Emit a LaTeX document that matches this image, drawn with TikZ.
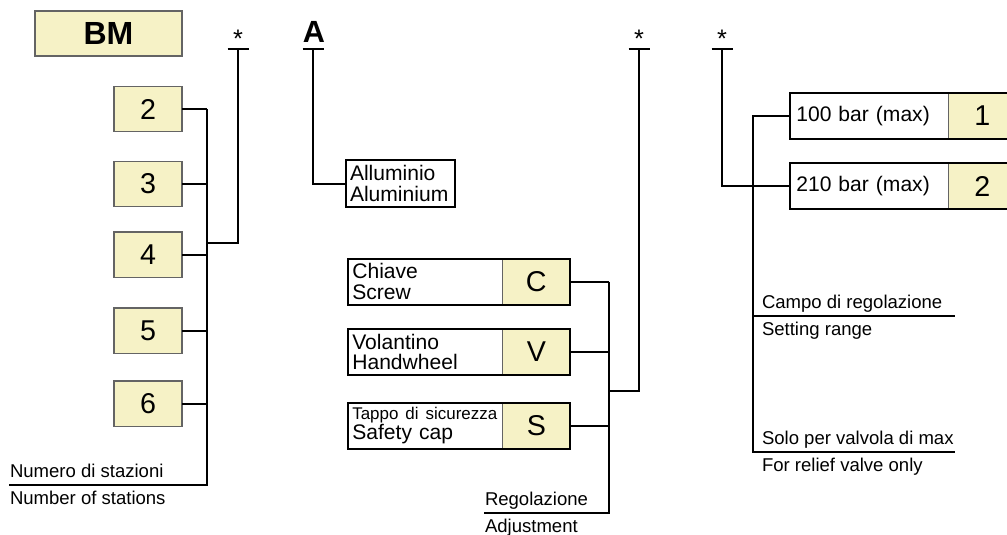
\documentclass[tikz,border=0pt]{standalone}
\usepackage{fontspec}
\setmainfont{Liberation Sans}
\usetikzlibrary{positioning}
\definecolor{codeyellow}{RGB}{246,242,198}
\definecolor{boxgray}{RGB}{100,100,100}
\tikzset{
        every path/.style={line width=1.5pt},
        codebox/.style={draw=boxgray,line width=1pt,fill=codeyellow,outer sep=0pt,inner sep=0pt,
                minimum width=51pt,minimum height=34.5pt,font=\fontsize{21.5}{21.5}\selectfont},
        lblbox/.style={fill=white,outer sep=0pt,inner xsep=3.5pt,inner ysep=0pt,text width=109pt,
                align=left,minimum height=34.5pt,font=\fontsize{15.8}{15.2}\selectfont},
        frame/.style={draw=black,line width=1.5pt},
        lbl/.style={anchor=base west,inner sep=0pt,font=\fontsize{13.9}{16}\selectfont},
        star/.style={anchor=base,inner sep=0pt,font=\fontsize{19}{19}\selectfont},
        head/.style={anchor=base,inner sep=0pt,font=\fontsize{23}{23}\selectfont\bfseries},
        bar/.style={line width=2pt},
        }

\begin{document}
\begin{tikzpicture}[x=0.75pt,y=-0.75pt]
\useasboundingbox (0,0) rectangle (1007,535);

% model code..........................
\node [codebox,minimum width=110.25pt,minimum height=33.75pt,
       font=\fontsize{24}{24}\selectfont\bfseries] (bm) at (108.5,33.5) {BM};

% number of stations..................
\coordinate (stJoin) at (207,243);
\coordinate (stBot) at (207,485);
\coordinate (stEnd) at (9,485);
\foreach \n/\y in {2/109,3/184,4/254.5,5/330.5,6/403.5}{
        \node [codebox,minimum height=34pt] (n\n) at (148,\y) {\n};
        \draw (n\n.east) -- (n\n.east -| stBot);
}
\draw (n2.east -| stBot) -- (stBot) -- (stEnd);
\node [lbl] (stIT) at (9,477.5) {Numero di stazioni};
\node [lbl] (stEN) at (9,504) {Number of stations};

% first option........................
\node [star] (star1) at (238,48) {*};
\coordinate (s1) at (238,49);
\draw [bar] (s1) ++(-10.5,0) -- ++(21,0);
\draw (s1) |- (stJoin);

% material............................
\node [head] (hdA) at (314,43) {A};
\coordinate (a1) at (313,49);
\draw [bar] (a1) ++(-10.5,0) -- ++(21,0);
\node [lblbox,frame,text width=75.75pt,minimum height=35pt,inner xsep=3pt] (alu) at (400.5,183.5) {Alluminio\\Aluminium};
\draw (a1) |- (alu.west);

% adjustment..........................
\node [lblbox] (chiave) at (425,281.5) {Chiave\\Screw};
\node [codebox,right=0pt of chiave] (codeC) {C};
\draw [frame] (chiave.north west) rectangle (codeC.south east);

\node [lblbox] (volant) at (425,352) {Volantino\\Handwheel};
\node [codebox,right=0pt of volant] (codeV) {V};
\draw [frame] (volant.north west) rectangle (codeV.south east);

\node [lblbox] (tappo) at (425,425.5) {{\fontsize{12.7}{13}\selectfont Tappo di sicurezza}\\Safety cap};
\node [codebox,right=0pt of tappo] (codeS) {S};
\draw [frame] (tappo.north west) rectangle (codeS.south east);

\coordinate (adjJoin) at (609,391);
\coordinate (adjBot) at (609,513);
\coordinate (adjEnd) at (484,513);
\foreach \c in {C,V,S}
        \draw (code\c.east) -- (code\c.east -| adjBot);
\draw (codeC.east -| adjBot) -- (adjBot) -- (adjEnd);
\node [lbl] (adjIT) at (484,505.5) {Regolazione};
\node [lbl] (adjEN) at (484,532) {Adjustment};

% second option.......................
\node [star] (star2) at (639,48) {*};
\coordinate (s2) at (639,49);
\draw [bar] (s2) ++(-10.5,0) -- ++(21,0);
\draw (s2) |- (adjJoin);

% setting range.......................
\node [lblbox,inner xsep=5pt] (p100) at (869,116) {100 bar (max)};
\node [codebox,right=0pt of p100] (code1) {1};
\draw [frame] (p100.north west) rectangle (code1.south east);

\node [lblbox,inner xsep=5pt] (p210) at (869,186) {210 bar (max)};
\node [codebox,right=0pt of p210] (code2) {2};
\draw [frame] (p210.north west) rectangle (code2.south east);

\coordinate (rngMid) at (753,316);
\coordinate (rngMidEnd) at (955,316);
\coordinate (rngBot) at (753,452);
\coordinate (rngEnd) at (955,452);
\draw (p100.west) -- (p100.west -| rngBot) -- (rngBot) -- (rngEnd);
\draw (rngMid) -- (rngMidEnd);
\node [lbl] (rngIT) at (761,308.5) {Campo di regolazione};
\node [lbl] (rngEN) at (761,335) {Setting range};
\node [lbl] (maxIT) at (761,444.5) {Solo per valvola di max};
\node [lbl] (maxEN) at (761,471) {For relief valve only};

% third option........................
\node [star] (star3) at (722,48) {*};
\coordinate (s3) at (722,49);
\draw [bar] (s3) ++(-10.5,0) -- ++(21,0);
\draw (s3) |- (p210.west);
\end{tikzpicture}
\end{document}
